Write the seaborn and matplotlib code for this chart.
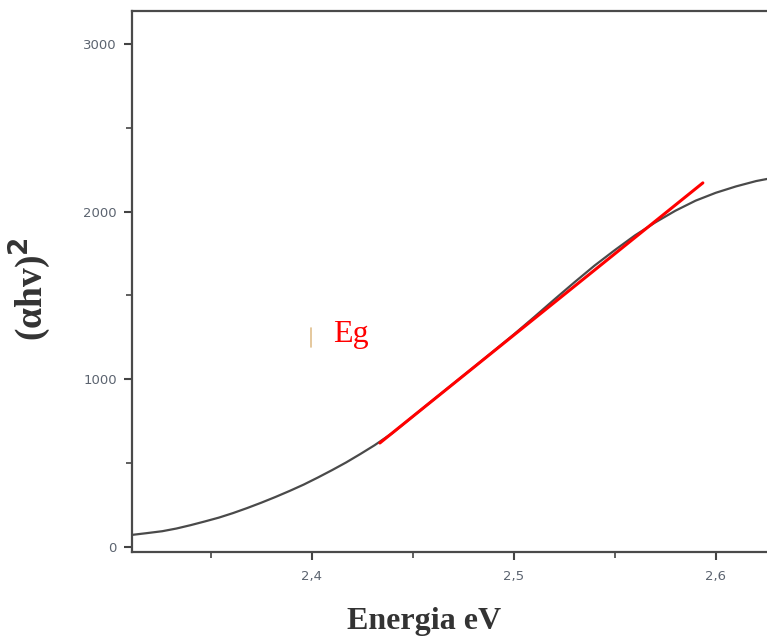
import numpy as np
import pandas as pd
import matplotlib
matplotlib.use("Agg")
import matplotlib.pyplot as plt
from matplotlib.ticker import MultipleLocator, FuncFormatter
import seaborn as sns

# Absorption curve (alpha*h*nu)^2 versus photon energy
energy = [2.311, 2.318, 2.326, 2.333, 2.340, 2.347, 2.354, 2.361, 2.368,
          2.375, 2.382, 2.389, 2.396, 2.403, 2.410, 2.417, 2.424, 2.431,
          2.440, 2.450, 2.460, 2.470, 2.480, 2.490, 2.500, 2.510, 2.520,
          2.530, 2.540, 2.550, 2.560, 2.570, 2.580, 2.590, 2.600, 2.610,
          2.620, 2.630]
absorption = [72, 82, 94, 110, 130, 152, 175, 202, 232,
              264, 298, 334, 372, 414, 458, 504, 554, 606,
              680, 778, 876, 973, 1070, 1168, 1267, 1370, 1475,
              1578, 1678, 1770, 1858, 1935, 2005, 2065, 2112, 2150,
              2182, 2205]

# Linear fit segment (Tauc extrapolation)
fit_energy = [2.4337, 2.5936]
fit_absorption = [620, 2171]

# Band-gap marker
eg_energy = 2.3995
eg_marker = [1193, 1306]

x_ticks = [2.4, 2.5, 2.6]
y_ticks = [0, 1000, 2000, 3000]

sns.set_style("ticks")
plt.rcParams["font.family"] = ["DejaVu Sans"]

fig = plt.figure(figsize=(7.67, 6.39), dpi=100)
ax = fig.add_axes([132 / 767, 87 / 639, 1 - 132 / 767, (552 - 11) / 639])

curve = pd.DataFrame({"E": energy, "A": absorption})
fit = pd.DataFrame({"E": fit_energy, "A": fit_absorption})

sns.lineplot(data=curve, x="E", y="A", ax=ax, color="#4a4a4a", lw=1.6, sort=True)
sns.lineplot(data=fit, x="E", y="A", ax=ax, color="#ff0000", lw=2.2)

ax.plot([eg_energy, eg_energy], eg_marker, color="#e0bf8c", lw=1.2)
ax.text(2.4104, 1222, "Eg", color="#ff0000", fontsize=23,
        family="Liberation Serif", ha="left", va="baseline")

ax.set_xlim(2.311, 2.311 + 635 / 2020)
ax.set_ylim(-30, 3196)

ax.xaxis.set_minor_locator(MultipleLocator(0.05))
ax.yaxis.set_minor_locator(MultipleLocator(500))
ax.set_xticks(x_ticks)
ax.set_yticks(y_ticks)
ax.xaxis.set_major_formatter(FuncFormatter(lambda v, p: f"{v:.1f}".replace(".", ",")))
ax.yaxis.set_major_formatter(FuncFormatter(lambda v, p: f"{int(v)}"))

ax.tick_params(axis="both", which="major", direction="out", length=6, width=1.5,
               color="#444444", labelsize=9.5, labelcolor="#5c6470")
ax.tick_params(axis="y", which="major", pad=5)
ax.tick_params(axis="x", which="major", pad=7)
ax.tick_params(axis="both", which="minor", direction="out", length=4, width=1.2,
               color="#444444")

for side in ["left", "bottom", "top"]:
    ax.spines[side].set_color("#4a4a4a")
    ax.spines[side].set_linewidth(1.6)
ax.spines["right"].set_visible(False)

ax.set_xlabel("Energia eV", fontsize=23, fontweight="bold", family="Liberation Serif",
              color="#333333")
ax.xaxis.set_label_coords((424 - 132) / 635, (552 - 629) / 541)
ax.xaxis.label.set_va("baseline")

ax.set_ylabel("(αhv)$^\\mathbf{2}$", fontsize=27, fontweight="bold",
              family="Liberation Serif", color="#333333")
ax.yaxis.set_label_coords((30 - 132) / 635, (552 - 289) / 541)
ax.yaxis.label.set_va("center")

fig.savefig("out.png", dpi=100)
